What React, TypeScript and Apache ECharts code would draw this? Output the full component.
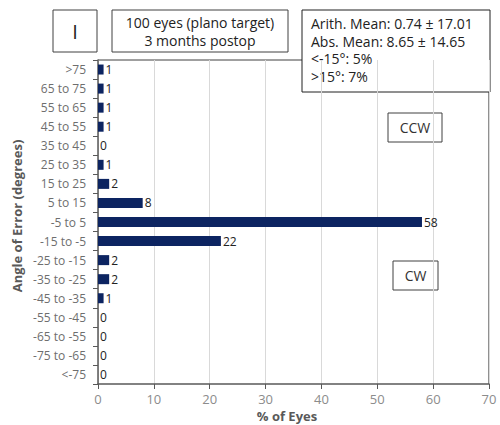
import React, { useEffect, useRef } from "react";
import * as echarts from "echarts";

const categories = [">75", "65 to 75", "55 to 65", "45 to 55", "35 to 45", "25 to 35", "15 to 25", "5 to 15", "-5 to 5", "-15 to -5", "-25 to -15", "-35 to -25", "-45 to -35", "-55 to -45", "-65 to -55", "-75 to -65", "<-75"];
const percentEyes = [1, 1, 1, 1, 0, 1, 2, 8, 58, 22, 2, 2, 1, 0, 0, 0, 0];
const xTicks = { min: 0, max: 70, interval: 10 };
const panelLabel = "I";
const titleLines = ["100 eyes (plano target)", "3 months postop"];
const statsLines = ["Arith. Mean: 0.74 ± 17.01", "Abs. Mean: 8.65 ± 14.65", "<-15°: 5%", ">15°: 7%"];
const yTitle = "Angle of Error (degrees)";
const xTitle = "% of Eyes";

const FONT = "'Open Sans', 'Noto Sans', sans-serif";

export default function App() {
  const ref = useRef<HTMLDivElement>(null);
  useEffect(() => {
    const chart = echarts.init(ref.current!, null, { renderer: "svg" });
    chart.setOption({
      animation: false,
      textStyle: { fontFamily: FONT },
      grid: { left: 98, right: 11, top: 60, bottom: 41, containLabel: false },
      xAxis: {
        type: "value",
        min: xTicks.min,
        max: xTicks.max,
        interval: xTicks.interval,
        axisLine: { show: true, lineStyle: { color: "#595959", width: 1.5 } },
        axisTick: { show: true, length: 5, lineStyle: { color: "#595959" } },
        axisLabel: { color: "#8c8c8c", fontSize: 13, margin: 8, fontFamily: FONT },
        splitLine: { show: true, lineStyle: { color: "#d9d9d9" } },
      },
      yAxis: {
        type: "category",
        data: categories,
        inverse: true,
        axisLine: { show: true, lineStyle: { color: "#595959", width: 1.5 } },
        axisTick: { show: true, length: 5, lineStyle: { color: "#595959" } },
        axisLabel: { color: "#6e6e6e", fontSize: 12, margin: 12, fontFamily: FONT },
      },
      series: [
        {
          type: "bar",
          data: percentEyes,
          barWidth: 10,
          itemStyle: { color: "#0c2461" },
          label: {
            show: true,
            position: "right",
            distance: 2,
            color: "#222",
            fontSize: 12,
            fontFamily: FONT,
          },
        },
      ],
      graphic: [
        { type: "line", shape: { x1: 98, y1: 60, x2: 489, y2: 60 }, style: { stroke: "#404040", lineWidth: 1 } },
        { type: "line", shape: { x1: 489, y1: 60, x2: 489, y2: 384 }, style: { stroke: "#202020", lineWidth: 1 } },
        {
          type: "text",
          x: 287,
          y: 416,
          style: { text: xTitle, fill: "#595959", font: `bold 13px ${FONT}`, align: "center", verticalAlign: "middle" },
        },
        {
          type: "text",
          x: 17,
          y: 216,
          rotation: Math.PI / 2,
          style: { text: yTitle, fill: "#595959", font: `bold 13px ${FONT}`, align: "center", verticalAlign: "middle" },
        },
        { type: "rect", shape: { x: 53, y: 10, width: 44, height: 42 }, style: { fill: "#fff", stroke: "#404040", lineWidth: 1 } },
        {
          type: "text",
          x: 75,
          y: 31,
          style: { text: panelLabel, fill: "#222", font: `20px ${FONT}`, align: "center", verticalAlign: "middle" },
        },
        { type: "rect", shape: { x: 112, y: 10, width: 176, height: 42 }, style: { fill: "#fff", stroke: "#404040", lineWidth: 1 } },
        {
          type: "text",
          x: 200,
          y: 31,
          style: { text: titleLines.join("\n"), fill: "#222", font: `14px ${FONT}`, lineHeight: 18, align: "center", verticalAlign: "middle" },
        },
        { type: "rect", shape: { x: 302, y: 10, width: 188, height: 82 }, style: { fill: "#fff", stroke: "#202020", lineWidth: 1 } },
        {
          type: "text",
          x: 311,
          y: 50,
          style: { text: statsLines.join("\n"), fill: "#222", font: `14px ${FONT}`, lineHeight: 17.5, align: "left", verticalAlign: "middle" },
        },
        { type: "rect", shape: { x: 388, y: 113, width: 54, height: 29 }, style: { fill: "#fff", stroke: "#404040", lineWidth: 1 } },
        {
          type: "text",
          x: 415,
          y: 127.5,
          style: { text: "CCW", fill: "#333", font: `14px ${FONT}`, align: "center", verticalAlign: "middle" },
        },
        { type: "rect", shape: { x: 393, y: 261, width: 45, height: 29 }, style: { fill: "#fff", stroke: "#404040", lineWidth: 1 } },
        {
          type: "text",
          x: 415.5,
          y: 275.5,
          style: { text: "CW", fill: "#333", font: `14px ${FONT}`, align: "center", verticalAlign: "middle" },
        },
      ],
    });
    return () => chart.dispose();
  }, []);
  return <div ref={ref} style={{ width: 500, height: 425, position: "absolute", left: 0, top: 0 }} />;
}
